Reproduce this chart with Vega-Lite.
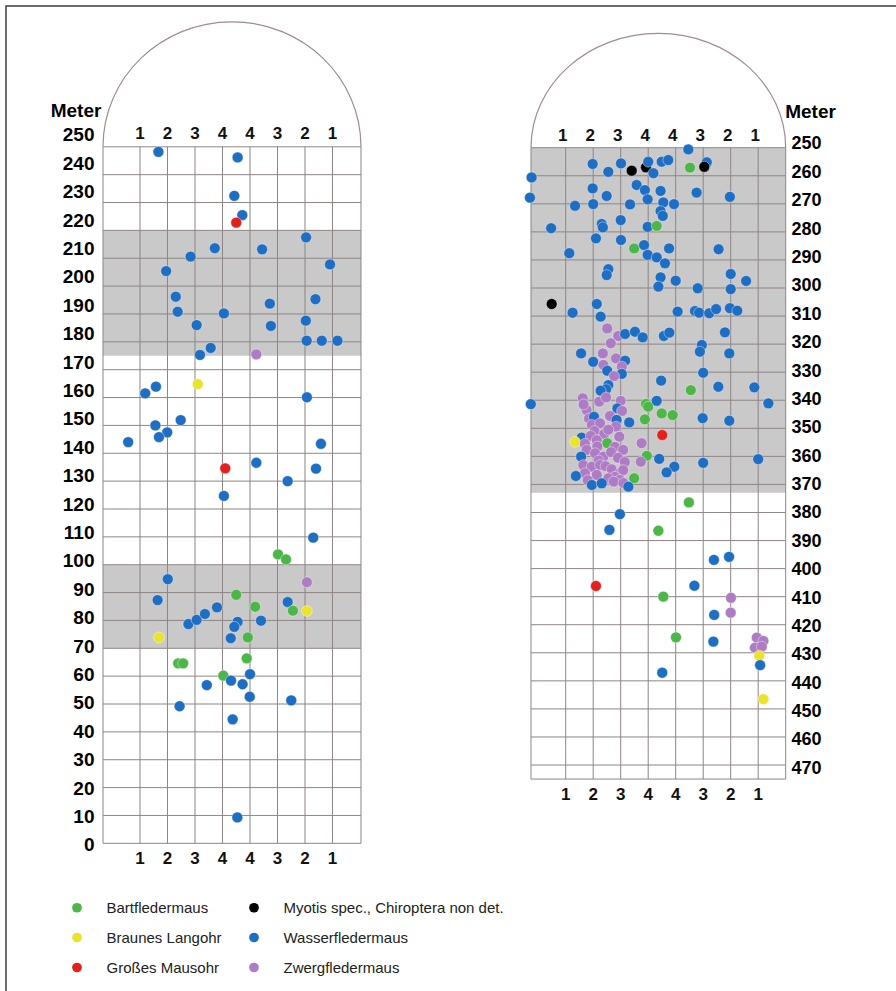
{
"$schema":"https://vega.github.io/schema/vega-lite/v6.json",
"width":890,"height":985,"autosize":"none",
"padding":{"left":6,"top":6,"right":0,"bottom":0},
"background":"white",
"config":{"view":{"stroke":"#3c3c3c","strokeWidth":1.5,"strokeDash":[890,1875,985,10]},"font":"Liberation Sans"},
"datasets":{
"lgray":[{"lo":70,"hi":100},{"lo":175,"hi":220}],
"rgray":[{"lo":250,"hi":373}],
"lh":[{"m":0},{"m":10},{"m":20},{"m":30},{"m":40},{"m":50},{"m":60},{"m":70},{"m":80},{"m":90},{"m":100},{"m":110},{"m":120},{"m":130},{"m":140},{"m":150},{"m":160},{"m":170},{"m":180},{"m":190},{"m":200},{"m":210},{"m":220},{"m":230},{"m":240},{"m":250}],
"lv":[{"c":-0.345},{"c":1},{"c":2},{"c":3},{"c":4},{"c":5},{"c":6},{"c":7},{"c":8},{"c":9.036}],
"rh":[{"m":250},{"m":260},{"m":270},{"m":280},{"m":290},{"m":300},{"m":310},{"m":320},{"m":330},{"m":340},{"m":350},{"m":360},{"m":370},{"m":380},{"m":390},{"m":400},{"m":410},{"m":420},{"m":430},{"m":440},{"m":450},{"m":460},{"m":470},{"m":475}],
"rv":[{"c":-0.262},{"c":1},{"c":2},{"c":3},{"c":4},{"c":5},{"c":6},{"c":7},{"c":8},{"c":9.0}],
"cols":[{"c":1,"t":"1"},{"c":2,"t":"2"},{"c":3,"t":"3"},{"c":4,"t":"4"},{"c":5,"t":"4"},{"c":6,"t":"3"},{"c":7,"t":"2"},{"c":8,"t":"1"}],
"left":[
{"c":1.67,"m":248.2,"s":"W"},{"c":4.55,"m":246.2,"s":"W"},{"c":4.43,"m":232.4,"s":"W"},{"c":4.72,"m":225.5,"s":"W"},{"c":4.50,"m":222.8,"s":"M"},
{"c":7.04,"m":217.5,"s":"W"},{"c":3.72,"m":213.6,"s":"W"},{"c":5.44,"m":213.2,"s":"W"},{"c":2.84,"m":210.6,"s":"W"},{"c":7.91,"m":207.8,"s":"W"},
{"c":1.95,"m":205.4,"s":"W"},{"c":2.30,"m":196.2,"s":"W"},{"c":7.38,"m":195.3,"s":"W"},{"c":5.72,"m":193.7,"s":"W"},{"c":2.37,"m":190.8,"s":"W"},
{"c":4.05,"m":190.2,"s":"W"},{"c":7.03,"m":187.6,"s":"W"},{"c":3.06,"m":186.0,"s":"W"},{"c":5.76,"m":185.7,"s":"W"},{"c":7.06,"m":180.4,"s":"W"},
{"c":7.61,"m":180.4,"s":"W"},{"c":8.18,"m":180.4,"s":"W"},{"c":3.57,"m":177.8,"s":"W"},{"c":3.18,"m":175.3,"s":"W"},{"c":5.23,"m":175.5,"s":"Z"},
{"c":3.10,"m":164.8,"s":"L"},{"c":1.58,"m":163.9,"s":"W"},{"c":1.19,"m":161.5,"s":"W"},{"c":7.07,"m":160.1,"s":"W"},{"c":2.48,"m":151.9,"s":"W"},
{"c":1.56,"m":150.0,"s":"W"},{"c":1.99,"m":147.5,"s":"W"},{"c":1.69,"m":145.8,"s":"W"},{"c":0.57,"m":144.0,"s":"W"},{"c":7.58,"m":143.4,"s":"W"},
{"c":5.23,"m":136.6,"s":"W"},{"c":4.10,"m":134.6,"s":"M"},{"c":7.40,"m":134.5,"s":"W"},{"c":6.37,"m":130.0,"s":"W"},{"c":4.05,"m":124.7,"s":"W"},
{"c":7.30,"m":109.7,"s":"W"},{"c":6.02,"m":103.7,"s":"B"},{"c":6.31,"m":101.9,"s":"B"},{"c":2.01,"m":94.8,"s":"W"},{"c":7.07,"m":93.7,"s":"Z"},
{"c":1.64,"m":87.3,"s":"W"},{"c":4.50,"m":89.2,"s":"B"},{"c":5.19,"m":84.9,"s":"B"},{"c":6.37,"m":86.6,"s":"W"},{"c":6.56,"m":83.5,"s":"B"},
{"c":7.07,"m":83.4,"s":"L"},{"c":3.80,"m":84.7,"s":"W"},{"c":2.76,"m":78.7,"s":"W"},{"c":3.06,"m":80.2,"s":"W"},{"c":3.36,"m":82.3,"s":"W"},
{"c":5.40,"m":79.9,"s":"W"},{"c":4.55,"m":79.5,"s":"W"},{"c":4.43,"m":77.7,"s":"W"},{"c":1.69,"m":73.9,"s":"L"},{"c":4.30,"m":73.6,"s":"W"},
{"c":4.92,"m":73.9,"s":"B"},{"c":2.39,"m":64.6,"s":"B"},{"c":2.57,"m":64.6,"s":"B"},{"c":4.88,"m":66.4,"s":"B"},{"c":4.03,"m":60.2,"s":"B"},
{"c":4.31,"m":58.4,"s":"W"},{"c":5.00,"m":60.7,"s":"W"},{"c":3.43,"m":56.8,"s":"W"},{"c":4.73,"m":57.1,"s":"W"},{"c":4.99,"m":52.6,"s":"W"},
{"c":6.50,"m":51.3,"s":"W"},{"c":2.44,"m":49.2,"s":"W"},{"c":4.37,"m":44.5,"s":"W"},{"c":4.54,"m":9.3,"s":"W"}
],
"right":[
{"c":5.46,"m":250.6,"s":"W"},{"c":1.98,"m":255.8,"s":"W"},{"c":2.55,"m":258.6,"s":"W"},{"c":3.01,"m":255.6,"s":"W"},{"c":3.40,"m":258.2,"s":"Y"},
{"c":3.92,"m":257.0,"s":"Y"},{"c":4.00,"m":255.0,"s":"W"},{"c":4.19,"m":259.1,"s":"W"},{"c":4.49,"m":255.0,"s":"W"},{"c":4.73,"m":254.4,"s":"W"},
{"c":5.52,"m":257.1,"s":"B"},{"c":6.13,"m":255.2,"s":"W"},{"c":6.04,"m":256.8,"s":"Y"},{"c":-0.24,"m":260.6,"s":"W"},{"c":-0.30,"m":267.8,"s":"W"},
{"c":1.98,"m":264.5,"s":"W"},{"c":2.49,"m":267.2,"s":"W"},{"c":1.34,"m":270.7,"s":"W"},{"c":2.00,"m":270.1,"s":"W"},{"c":3.58,"m":263.3,"s":"W"},
{"c":3.88,"m":265.1,"s":"W"},{"c":3.98,"m":268.4,"s":"W"},{"c":3.34,"m":270.2,"s":"W"},{"c":4.45,"m":265.4,"s":"W"},{"c":4.55,"m":269.5,"s":"W"},
{"c":4.94,"m":270.1,"s":"W"},{"c":4.45,"m":272.6,"s":"W"},{"c":4.53,"m":274.3,"s":"W"},{"c":5.76,"m":266.0,"s":"W"},{"c":6.97,"m":267.5,"s":"W"},
{"c":0.47,"m":278.7,"s":"W"},{"c":2.31,"m":277.2,"s":"W"},{"c":2.35,"m":278.4,"s":"W"},{"c":3.00,"m":275.8,"s":"W"},{"c":3.98,"m":278.2,"s":"W"},
{"c":4.31,"m":277.9,"s":"B"},{"c":2.10,"m":282.3,"s":"W"},{"c":3.01,"m":282.9,"s":"W"},{"c":1.13,"m":287.6,"s":"W"},{"c":3.49,"m":285.9,"s":"B"},
{"c":3.85,"m":284.7,"s":"W"},{"c":3.98,"m":288.2,"s":"W"},{"c":4.31,"m":289.1,"s":"W"},{"c":4.61,"m":291.2,"s":"W"},{"c":4.76,"m":285.9,"s":"W"},
{"c":6.56,"m":286.2,"s":"W"},{"c":2.55,"m":293.3,"s":"W"},{"c":2.49,"m":295.4,"s":"W"},{"c":7.00,"m":295.0,"s":"W"},{"c":7.56,"m":297.5,"s":"W"},
{"c":4.45,"m":296.2,"s":"W"},{"c":4.37,"m":299.5,"s":"W"},{"c":5.00,"m":297.4,"s":"W"},{"c":5.80,"m":300.1,"s":"W"},{"c":7.00,"m":300.4,"s":"W"},
{"c":0.49,"m":305.7,"s":"Y"},{"c":2.13,"m":305.7,"s":"W"},{"c":1.25,"m":308.8,"s":"W"},{"c":2.27,"m":310.2,"s":"W"},{"c":5.07,"m":308.4,"s":"W"},
{"c":5.70,"m":308.2,"s":"W"},{"c":5.85,"m":308.8,"s":"W"},{"c":6.22,"m":309.0,"s":"W"},{"c":6.47,"m":307.5,"s":"W"},{"c":6.97,"m":307.2,"s":"W"},
{"c":7.24,"m":308.1,"s":"W"},{"c":2.51,"m":314.4,"s":"Z"},{"c":2.91,"m":317.1,"s":"Z"},{"c":3.16,"m":316.4,"s":"W"},{"c":3.52,"m":315.6,"s":"W"},
{"c":3.80,"m":317.6,"s":"W"},{"c":2.64,"m":319.7,"s":"Z"},{"c":4.57,"m":317.1,"s":"W"},{"c":4.77,"m":315.9,"s":"W"},{"c":5.95,"m":320.3,"s":"W"},
{"c":5.88,"m":322.7,"s":"W"},{"c":6.79,"m":315.8,"s":"W"},{"c":6.95,"m":323.3,"s":"W"},{"c":1.56,"m":323.3,"s":"W"},{"c":2.35,"m":323.3,"s":"Z"},
{"c":2.00,"m":326.3,"s":"W"},{"c":2.83,"m":325.1,"s":"Z"},{"c":3.16,"m":325.9,"s":"W"},{"c":2.37,"m":327.4,"s":"Z"},{"c":3.04,"m":328.0,"s":"Z"},
{"c":2.51,"m":329.5,"s":"W"},{"c":3.04,"m":330.6,"s":"W"},{"c":2.76,"m":331.4,"s":"Z"},{"c":6.00,"m":330.2,"s":"W"},{"c":4.47,"m":333.0,"s":"W"},
{"c":5.55,"m":336.4,"s":"B"},{"c":6.55,"m":335.2,"s":"W"},{"c":7.86,"m":335.4,"s":"W"},{"c":2.55,"m":334.6,"s":"W"},{"c":2.47,"m":336.1,"s":"W"},
{"c":2.27,"m":336.6,"s":"W"},{"c":-0.27,"m":341.4,"s":"W"},{"c":8.37,"m":341.1,"s":"W"},{"c":1.62,"m":339.3,"s":"Z"},{"c":2.22,"m":340.5,"s":"Z"},
{"c":2.47,"m":339.0,"s":"Z"},{"c":3.00,"m":340.2,"s":"Z"},{"c":2.88,"m":342.9,"s":"W"},{"c":3.92,"m":341.3,"s":"B"},{"c":4.00,"m":342.3,"s":"B"},
{"c":4.31,"m":340.2,"s":"W"},{"c":4.49,"m":344.7,"s":"B"},{"c":4.89,"m":345.3,"s":"B"},{"c":1.76,"m":343.5,"s":"Z"},{"c":1.65,"m":341.5,"s":"Z"},
{"c":3.05,"m":343.8,"s":"Z"},{"c":1.85,"m":346.5,"s":"Z"},{"c":2.03,"m":345.9,"s":"W"},{"c":2.61,"m":345.6,"s":"Z"},{"c":2.85,"m":347.0,"s":"W"},
{"c":1.95,"m":348.8,"s":"Z"},{"c":2.25,"m":348.2,"s":"Z"},{"c":3.31,"m":347.9,"s":"W"},{"c":3.88,"m":346.8,"s":"B"},{"c":5.98,"m":346.4,"s":"W"},
{"c":6.95,"m":347.3,"s":"W"},{"c":2.83,"m":349.4,"s":"Z"},{"c":2.05,"m":351.0,"s":"Z"},{"c":2.40,"m":352.0,"s":"Z"},{"c":2.55,"m":350.5,"s":"Z"},
{"c":4.51,"m":352.4,"s":"M"},{"c":1.58,"m":353.3,"s":"W"},{"c":1.34,"m":354.8,"s":"L"},{"c":1.91,"m":352.7,"s":"Z"},{"c":2.13,"m":354.2,"s":"Z"},
{"c":2.51,"m":355.3,"s":"B"},{"c":2.95,"m":353.0,"s":"Z"},{"c":2.79,"m":356.6,"s":"Z"},{"c":3.09,"m":357.7,"s":"Z"},{"c":3.76,"m":355.3,"s":"Z"},
{"c":1.70,"m":355.5,"s":"Z"},{"c":2.15,"m":356.5,"s":"Z"},{"c":1.76,"m":357.7,"s":"Z"},{"c":2.07,"m":358.9,"s":"Z"},{"c":2.37,"m":360.1,"s":"Z"},
{"c":2.65,"m":358.5,"s":"Z"},{"c":2.90,"m":360.5,"s":"Z"},{"c":2.20,"m":361.5,"s":"Z"},{"c":1.56,"m":360.1,"s":"W"},{"c":3.95,"m":359.8,"s":"B"},
{"c":4.40,"m":360.9,"s":"W"},{"c":3.73,"m":361.9,"s":"Z"},{"c":3.15,"m":362.0,"s":"Z"},{"c":1.64,"m":363.1,"s":"Z"},{"c":1.95,"m":363.7,"s":"Z"},
{"c":2.25,"m":363.1,"s":"Z"},{"c":2.45,"m":363.5,"s":"Z"},{"c":2.67,"m":364.6,"s":"Z"},{"c":2.97,"m":366.0,"s":"Z"},{"c":3.09,"m":364.9,"s":"Z"},
{"c":2.79,"m":367.3,"s":"Z"},{"c":2.97,"m":368.4,"s":"Z"},{"c":1.70,"m":366.0,"s":"Z"},{"c":2.13,"m":366.6,"s":"Z"},{"c":2.55,"m":367.8,"s":"Z"},
{"c":2.75,"m":369.0,"s":"Z"},{"c":3.10,"m":369.5,"s":"Z"},{"c":1.80,"m":368.5,"s":"Z"},
{"c":4.95,"m":363.7,"s":"W"},{"c":4.67,"m":365.7,"s":"W"},{"c":6.00,"m":362.3,"s":"W"},{"c":8.00,"m":361.0,"s":"W"},{"c":1.37,"m":367.0,"s":"W"},
{"c":3.49,"m":367.8,"s":"B"},{"c":1.95,"m":370.2,"s":"W"},{"c":2.31,"m":369.6,"s":"W"},{"c":3.28,"m":370.8,"s":"W"},
{"c":5.48,"m":376.4,"s":"B"},{"c":2.97,"m":380.6,"s":"W"},{"c":2.59,"m":386.2,"s":"W"},{"c":4.37,"m":386.5,"s":"B"},{"c":6.39,"m":396.9,"s":"W"},
{"c":6.94,"m":395.8,"s":"W"},{"c":2.10,"m":406.2,"s":"M"},{"c":5.68,"m":406.1,"s":"W"},{"c":4.55,"m":410.0,"s":"B"},{"c":7.01,"m":410.4,"s":"Z"},
{"c":7.00,"m":415.7,"s":"Z"},{"c":6.40,"m":416.5,"s":"W"},{"c":5.01,"m":424.5,"s":"B"},{"c":6.37,"m":426.0,"s":"W"},{"c":7.95,"m":424.6,"s":"Z"},
{"c":8.19,"m":425.8,"s":"Z"},{"c":7.88,"m":428.2,"s":"Z"},{"c":8.13,"m":427.8,"s":"Z"},{"c":8.04,"m":431.0,"s":"L"},{"c":8.07,"m":434.4,"s":"W"},
{"c":4.51,"m":437.1,"s":"W"},{"c":8.19,"m":446.5,"s":"L"}
]
},
"layer":[
{"layer":[
 {"data":{"name":"lgray"},"mark":{"type":"rect","color":"#c9c9c9"},
  "encoding":{"x":{"datum":-0.345,"type":"quantitative","scale":{"domain":[-3.8727,28.4909],"nice":false,"zero":false},"axis":null},"x2":{"datum":9.036},
   "y":{"field":"lo","type":"quantitative","scale":{"domain":[-53.01,300.54],"nice":false,"zero":false},"axis":null},"y2":{"field":"hi"}}},
 {"data":{"name":"lh"},"mark":{"type":"rule","color":"#8f8585","strokeWidth":1},
  "encoding":{"x":{"datum":-0.345,"type":"quantitative","scale":{"domain":[-3.8727,28.4909],"nice":false,"zero":false},"axis":null},"x2":{"datum":9.036},
   "y":{"field":"m","type":"quantitative","scale":{"domain":[-53.01,300.54],"nice":false,"zero":false},"axis":null}}},
 {"data":{"name":"lv"},"mark":{"type":"rule","color":"#8f8585","strokeWidth":1},
  "encoding":{"x":{"field":"c","type":"quantitative","scale":{"domain":[-3.8727,28.4909],"nice":false,"zero":false},"axis":null},
   "y":{"datum":0,"type":"quantitative","scale":{"domain":[-53.01,300.54],"nice":false,"zero":false},"axis":null},"y2":{"datum":250}}},
 {"data":{"values":[{}]},"mark":{"type":"point","shape":"M -1 0 C -1 -0.535 -0.552 -0.969 0 -0.969 C 0.552 -0.969 1 -0.535 1 0","size":66564,"filled":false,"color":"#a08e8e","strokeWidth":1.2,"opacity":1},
  "encoding":{"x":{"datum":4.345,"type":"quantitative","scale":{"domain":[-3.8727,28.4909],"nice":false,"zero":false},"axis":null},
   "y":{"datum":250,"type":"quantitative","scale":{"domain":[-53.01,300.54],"nice":false,"zero":false},"axis":null}}},
 {"data":{"name":"left"},"mark":{"type":"circle","size":118,"opacity":1,"stroke":"white","strokeWidth":0.4},
  "encoding":{"x":{"field":"c","type":"quantitative","scale":{"domain":[-3.8727,28.4909],"nice":false,"zero":false},"axis":null},
   "y":{"field":"m","type":"quantitative","scale":{"domain":[-53.01,300.54],"nice":false,"zero":false},"axis":null},
   "color":{"field":"s","type":"nominal","scale":{"domain":["B","L","M","Y","W","Z"],"range":["#4cb748","#e9e42b","#e3211c","#000000","#1e6ec3","#ae7cc5"]},
    "legend":{"orient":"none","legendX":63.5,"legendY":894,"columns":2,"title":null,"padding":0,"symbolType":"circle","symbolSize":95,"symbolStrokeWidth":0,"symbolOpacity":1,
     "labelFont":"Liberation Sans","labelFontSize":15,"labelColor":"#222222","labelOffset":22,"columnPadding":24,"rowPadding":14,"labelLimit":400,
     "labelExpr":"datum.label=='B'?'Bartfledermaus':datum.label=='Y'?'Myotis spec., Chiroptera non det.':datum.label=='L'?'Braunes Langohr':datum.label=='W'?'Wasserfledermaus':datum.label=='M'?'Großes Mausohr':'Zwergfledermaus'"}}}},
 {"data":{"name":"cols"},"mark":{"type":"text","font":"Liberation Sans","fontWeight":"bold","fontSize":17,"color":"#111111","baseline":"middle","align":"center"},
  "encoding":{"x":{"field":"c","type":"quantitative","scale":{"domain":[-3.8727,28.4909],"nice":false,"zero":false},"axis":null},
   "y":{"datum":254.6,"type":"quantitative","scale":{"domain":[-53.01,300.54],"nice":false,"zero":false},"axis":null},"text":{"field":"t"}}},
 {"data":{"name":"cols"},"mark":{"type":"text","font":"Liberation Sans","fontWeight":"bold","fontSize":17,"color":"#111111","baseline":"middle","align":"center"},
  "encoding":{"x":{"field":"c","type":"quantitative","scale":{"domain":[-3.8727,28.4909],"nice":false,"zero":false},"axis":null},
   "y":{"datum":-5.8,"type":"quantitative","scale":{"domain":[-53.01,300.54],"nice":false,"zero":false},"axis":null},"text":{"field":"t"}}}
]},
{"layer":[
 {"data":{"name":"rgray"},"mark":{"type":"rect","color":"#c9c9c9"},
  "encoding":{"x":{"datum":-0.262,"type":"quantitative","scale":{"domain":[-19.3527,13.0109],"nice":false,"zero":false},"axis":null},"x2":{"datum":9.0},
   "y":{"field":"lo","type":"quantitative","scale":{"domain":[199.5,550.53],"reverse":true,"nice":false,"zero":false},"axis":null},"y2":{"field":"hi"}}},
 {"data":{"name":"rh"},"mark":{"type":"rule","color":"#8f8585","strokeWidth":1},
  "encoding":{"x":{"datum":-0.262,"type":"quantitative","scale":{"domain":[-19.3527,13.0109],"nice":false,"zero":false},"axis":null},"x2":{"datum":9.0},
   "y":{"field":"m","type":"quantitative","scale":{"domain":[199.5,550.53],"reverse":true,"nice":false,"zero":false},"axis":null}}},
 {"data":{"name":"rv"},"mark":{"type":"rule","color":"#8f8585","strokeWidth":1},
  "encoding":{"x":{"field":"c","type":"quantitative","scale":{"domain":[-19.3527,13.0109],"nice":false,"zero":false},"axis":null},
   "y":{"datum":250,"type":"quantitative","scale":{"domain":[199.5,550.53],"reverse":true,"nice":false,"zero":false},"axis":null},"y2":{"datum":475}}},
 {"data":{"values":[{}]},"mark":{"type":"point","shape":"M -1 0 C -1 -0.496 -0.552 -0.898 0 -0.898 C 0.552 -0.898 1 -0.496 1 0","size":64872,"filled":false,"color":"#a08e8e","strokeWidth":1.2,"opacity":1},
  "encoding":{"x":{"datum":4.369,"type":"quantitative","scale":{"domain":[-19.3527,13.0109],"nice":false,"zero":false},"axis":null},
   "y":{"datum":250,"type":"quantitative","scale":{"domain":[199.5,550.53],"reverse":true,"nice":false,"zero":false},"axis":null}}},
 {"data":{"name":"right"},"mark":{"type":"circle","size":118,"opacity":1,"stroke":"white","strokeWidth":0.4},
  "encoding":{"x":{"field":"c","type":"quantitative","scale":{"domain":[-19.3527,13.0109],"nice":false,"zero":false},"axis":null},
   "y":{"field":"m","type":"quantitative","scale":{"domain":[199.5,550.53],"reverse":true,"nice":false,"zero":false},"axis":null},
   "color":{"field":"s","type":"nominal","scale":{"domain":["B","L","M","Y","W","Z"],"range":["#4cb748","#e9e42b","#e3211c","#000000","#1e6ec3","#ae7cc5"]},
    "legend":{"orient":"none","legendX":63.5,"legendY":894,"columns":2,"title":null,"padding":0,"symbolType":"circle","symbolSize":95,"symbolStrokeWidth":0,"symbolOpacity":1,
     "labelFont":"Liberation Sans","labelFontSize":15,"labelColor":"#222222","labelOffset":22,"columnPadding":24,"rowPadding":14,"labelLimit":400,
     "labelExpr":"datum.label=='B'?'Bartfledermaus':datum.label=='Y'?'Myotis spec., Chiroptera non det.':datum.label=='L'?'Braunes Langohr':datum.label=='W'?'Wasserfledermaus':datum.label=='M'?'Großes Mausohr':'Zwergfledermaus'"}}}},
 {"data":{"name":"cols"},"mark":{"type":"text","font":"Liberation Sans","fontWeight":"bold","fontSize":17,"color":"#111111","baseline":"middle","align":"center","dx":-3},
  "encoding":{"x":{"field":"c","type":"quantitative","scale":{"domain":[-19.3527,13.0109],"nice":false,"zero":false},"axis":null},
   "y":{"datum":245.8,"type":"quantitative","scale":{"domain":[199.5,550.53],"reverse":true,"nice":false,"zero":false},"axis":null},"text":{"field":"t"}}},
 {"data":{"name":"cols"},"mark":{"type":"text","font":"Liberation Sans","fontWeight":"bold","fontSize":17,"color":"#111111","baseline":"middle","align":"center"},
  "encoding":{"x":{"field":"c","type":"quantitative","scale":{"domain":[-19.3527,13.0109],"nice":false,"zero":false},"axis":null},
   "y":{"datum":480.7,"type":"quantitative","scale":{"domain":[199.5,550.53],"reverse":true,"nice":false,"zero":false},"axis":null},"text":{"field":"t"}}}
]},
{"data":{"values":[{"v":0},{"v":250}]},"mark":{"type":"rule","opacity":0},
 "encoding":{"y":{"field":"v","type":"quantitative","scale":{"domain":[-51.41,295.42],"nice":false,"zero":false},
  "axis":{"orient":"left","offset":-94,"values":[0,10,20,30,40,50,60,70,80,90,100,110,120,130,140,150,160,170,180,190,200,210,220,230,240,250],
   "domain":false,"ticks":false,"tickSize":0,"grid":false,"labelPadding":6,"labelFont":"Liberation Sans","labelFontWeight":"bold","labelFontSize":19,"labelColor":"#000000","labelFlush":false,"labelOverlap":false,
   "title":"Meter","titleAngle":0,"titleX":-24.5,"titleY":104,"titleAlign":"center","titleBaseline":"middle","titleFont":"Liberation Sans","titleFontSize":19,"titleFontWeight":"bold","titleColor":"#000000"}}}},
{"data":{"values":[{"v":250},{"v":470}]},"mark":{"type":"rule","opacity":0},
 "encoding":{"y":{"field":"v","type":"quantitative","scale":{"domain":[201.37,548.48],"reverse":true,"nice":false,"zero":false},
  "axis":{"orient":"right","offset":-110,"values":[250,260,270,280,290,300,310,320,330,340,350,360,370,380,390,400,410,420,430,440,450,460,470],
   "domain":false,"ticks":false,"tickSize":0,"grid":false,"labelPadding":5,"labelAlign":"left","labelFont":"Liberation Sans","labelFontWeight":"bold","labelFontSize":18,"labelColor":"#000000","labelFlush":false,"labelOverlap":false,
   "title":"Meter","titleAngle":0,"titleX":24,"titleY":105,"titleAlign":"center","titleBaseline":"middle","titleFont":"Liberation Sans","titleFontSize":19,"titleFontWeight":"bold","titleColor":"#000000"}}}}
],
"resolve":{"scale":{"x":"independent","y":"independent"}}
}
